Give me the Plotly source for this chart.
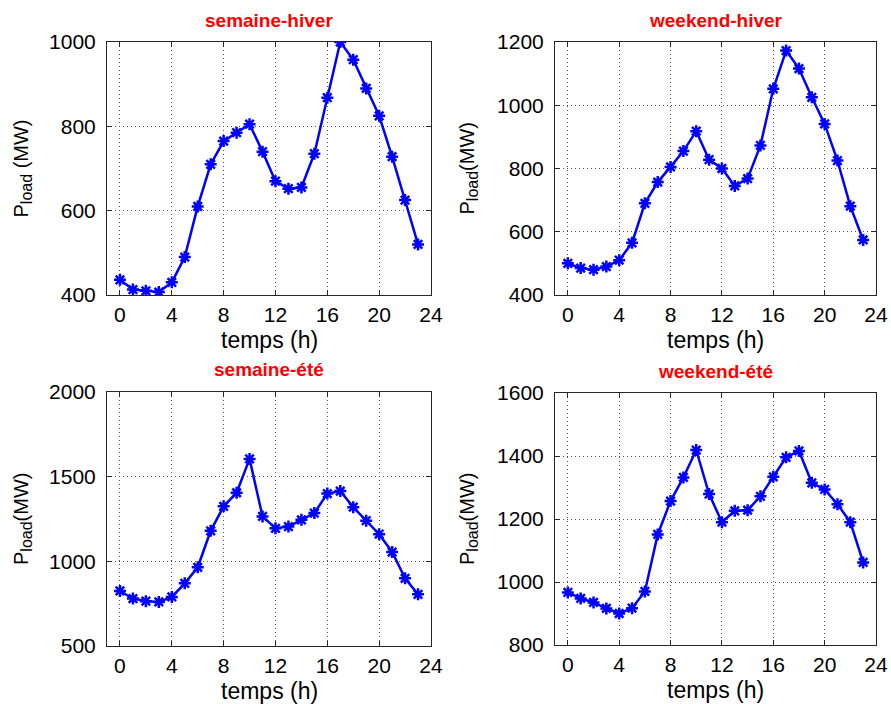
import plotly.graph_objects as go

hours = list(range(24))

semaine_hiver = [436, 413, 410, 407, 430, 490, 610, 710, 765, 785, 805, 740,
                 670, 652, 655, 735, 868, 1000, 958, 890, 825, 728, 625, 520]
weekend_hiver = [500, 485, 480, 490, 510, 565, 690, 757, 805, 855, 918, 828,
                 800, 745, 768, 873, 1052, 1173, 1116, 1025, 941, 825, 681, 574]
semaine_ete = [825, 780, 765, 760, 790, 870, 965, 1180, 1325, 1405, 1605, 1265,
               1195, 1205, 1245, 1285, 1400, 1415, 1320, 1240, 1160, 1055, 900, 805]
weekend_ete = [967, 948, 935, 916, 900, 917, 970, 1151, 1257, 1332, 1419, 1279,
               1190, 1226, 1228, 1272, 1334, 1396, 1416, 1315, 1294, 1247, 1190, 1062]

titles = ["semaine-hiver", "weekend-hiver", "semaine-été", "weekend-été"]
series = [semaine_hiver, weekend_hiver, semaine_ete, weekend_ete]
y_ranges = [[400, 1000], [400, 1200], [500, 2000], [800, 1600]]
y_dticks = [200, 200, 500, 200]
x_ticks = [0, 4, 8, 12, 16, 20, 24]
x_title = "temps (h)"
y_titles = ["P<sub><span style='font-size:16px'>load</span></sub> (MW)",
            "P<sub><span style='font-size:16px'>load</span></sub>(MW)",
            "P<sub><span style='font-size:16px'>load</span></sub>(MW)",
            "P<sub><span style='font-size:16px'>load</span></sub>(MW)"]

W, H = 891, 704
# pixel boxes: (left, right, top, bottom)
boxes = [(107, 431, 42, 295), (555, 876, 42, 295),
         (107, 431, 392, 646), (555, 876, 393, 645)]
ytitle_x = [22, 468, 22, 468]

fig = go.Figure()
FONT = "Liberation Sans, Arial, sans-serif"

for i, (t, s, yr, dt, b) in enumerate(zip(titles, series, y_ranges, y_dticks, boxes)):
    n = "" if i == 0 else str(i + 1)
    fig.add_trace(go.Scatter(
        x=hours, y=s, mode="lines+markers",
        line=dict(color="#0000ff", width=2.5),
        marker=dict(symbol="asterisk-open", size=10,
                    line=dict(color="#0000ff", width=2.5)),
        xaxis="x" + n, yaxis="y" + n, showlegend=False))
    l, r, tp, bt = b
    axcommon = dict(showline=True, linecolor="#262626", linewidth=1, mirror="ticks",
                    ticks="inside", ticklen=5, tickcolor="#262626",
                    showgrid=True, gridcolor="#555555", griddash="1px,3px", gridwidth=1,
                    zeroline=False, automargin=False,
                    tickfont=dict(family=FONT, size=21, color="black"))
    fig.update_layout(**{
        "xaxis" + n: dict(domain=[l / W, r / W], anchor="y" + n,
                          range=[-1, 24], tickvals=x_ticks,
                          ticklabelstandoff=1, **axcommon),
        "yaxis" + n: dict(domain=[1 - bt / H, 1 - tp / H], anchor="x" + n,
                          range=yr, dtick=dt, ticklabelstandoff=6,
                          **axcommon),
    })
    # subplot title
    fig.add_annotation(text="<b>" + t + "</b>", x=(l + r) / 2 / W, y=1 - (tp - 22) / H,
                       xref="paper", yref="paper", showarrow=False,
                       xanchor="center", yanchor="middle",
                       font=dict(family=FONT, size=19, color="#ff0000"))
    # x-axis title
    fig.add_annotation(text=x_title, x=(l + r) / 2 / W, y=1 - (bt + 45) / H,
                       xref="paper", yref="paper", showarrow=False,
                       xanchor="center", yanchor="middle",
                       font=dict(family=FONT, size=23, color="black"))
    # y-axis title
    fig.add_annotation(text=y_titles[i], x=ytitle_x[i] / W, y=1 - (tp + bt) / 2 / H,
                       xref="paper", yref="paper", showarrow=False, textangle=-90,
                       xanchor="center", yanchor="middle",
                       font=dict(family=FONT, size=20, color="black"))

fig.update_layout(width=W, height=H, margin=dict(l=0, r=0, t=0, b=0, autoexpand=False),
                  paper_bgcolor="white", plot_bgcolor="white")

fig.write_html("out.html", config={"displayModeBar": False},
               post_script="document.body.style.margin='0px';")
